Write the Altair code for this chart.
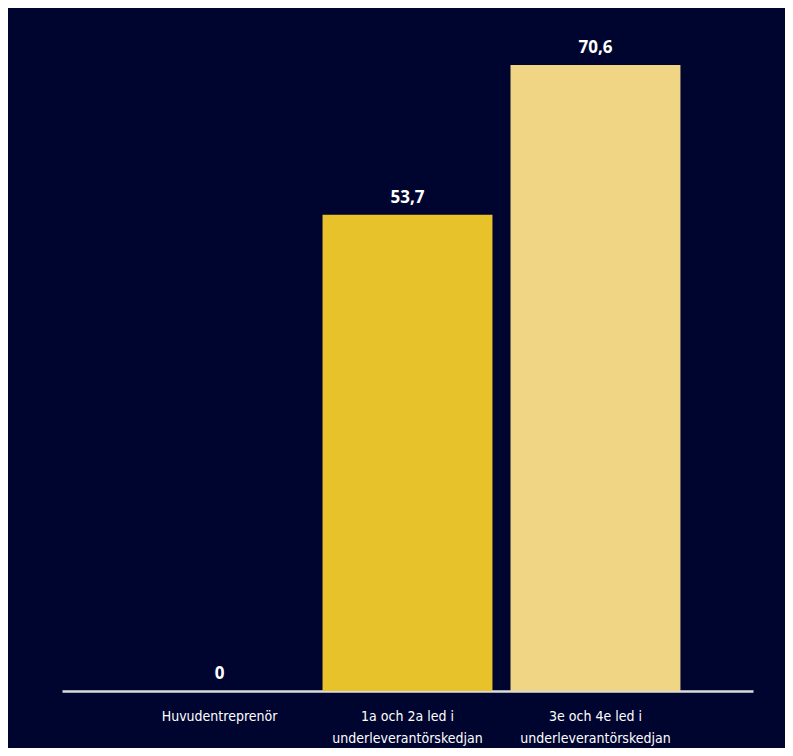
import altair as alt
import pandas as pd

categories = ["Huvudentreprenör", "1a och  2a led i|underleverantörskedjan", "3e och  4e led i|underleverantörskedjan"]
values = [0, 53.7, 70.6]
value_labels = ["0", "53,7", "70,6"]
bar_colors = ["#E8C22A", "#E8C22A", "#F0D585"]

df = pd.DataFrame({"cat": categories, "val": values, "lab": value_labels, "col": bar_colors})

x = alt.X("cat:N", sort=categories, title=None,
          scale=alt.Scale(paddingInner=0.096, paddingOuter=0.386),
          axis=alt.Axis(labelExpr="split(datum.label, '|')", labelAngle=0, labelColor="#ffffff",
                        labelFont="DejaVu Sans Condensed, Roboto Condensed, Roboto, sans-serif",
                        labelFontSize=14, labelLineHeight=22,
                        labelPadding=18, ticks=False, domainColor="#dcdcdc", domainWidth=2.5,
                        labelBaseline="top"))
y = alt.Y("val:Q", scale=alt.Scale(domain=[0, 75], nice=False), axis=None)

bars = alt.Chart(df).mark_bar().encode(x=x, y=y, color=alt.Color("col:N", scale=None))
text = alt.Chart(df).mark_text(baseline="bottom", dy=-8, font="Open Sans", fontWeight="bold",
                               fontSize=17, color="#ffffff").encode(x=x, y=y, text="lab:N")

chart = (bars + text).properties(
    width=691, height=665,
    background="#000530",
    padding={"left": 54, "top": 18, "right": 32, "bottom": 57},
    autosize=alt.AutoSizeParams(type="none"),
).configure_view(stroke=None)

chart.save("out.html", embed_options={"renderer": "svg", "actions": False})
